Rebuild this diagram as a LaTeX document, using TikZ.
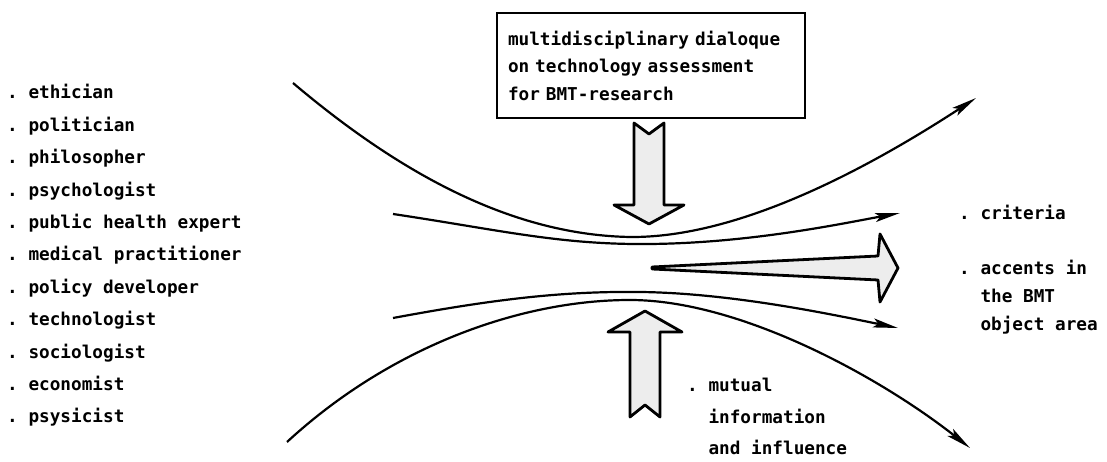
\documentclass[tikz,border=0pt]{standalone}
\usepackage{fontspec}
\setmonofont{DejaVu Sans Mono}
\usetikzlibrary{arrows.meta,positioning}

\tikzset{
  lbl/.style={font=\ttfamily\bfseries\fontsize{17.7pt}{27.5pt}\selectfont, inner sep=0pt, anchor=base west},
  flow/.style={line width=2.2pt, -{Stealth[length=25pt,width=9pt,inset=5pt]}},
  blockarrow/.style={draw, line width=2.8pt, fill=black!7, line join=round},
}

\begin{document}
\begin{tikzpicture}[x=1pt,y=1pt]
  \useasboundingbox (0,0) rectangle (1107,462);

  % disciplines taking part
  \foreach \who [count=\i from 0] in {ethician,politician,philosopher,psychologist,public health expert,medical practitioner,policy developer,technologist,sociologist,economist,psysicist}
    \node[lbl] (who\i) at (7,363-32.4*\i) {.\ \who};

  % dialogue box
  \node[lbl, anchor=center, draw, line width=1.8pt, align=left, text width=286pt, inner xsep=11pt, minimum height=105pt] (dialogue) at (651,396.5) {multidisciplinary dialoque\\on technology assessment\\for BMT-research};

  % outcomes
  \node[lbl] (crit) at (959,242) {.\ criteria};
  \node[lbl] (acc) at (959,187) {.\ accents in};
  \node[lbl] (bmt) at ([yshift=-28pt]acc.base west) {\phantom{.\ }the BMT};
  \node[lbl] (area) at ([yshift=-28pt]bmt.base west) {\phantom{.\ }object area};

  % feedback
  \node[lbl] (mut) at (687,70) {.\ mutual};
  \node[lbl] (info) at ([yshift=-31.5pt]mut.base west) {\phantom{.\ }information};
  \node[lbl] (infl) at ([yshift=-31.5pt]info.base west) {\phantom{.\ }and influence};

  % flow lines
  \coordinate (uoS) at (293,379);
  \coordinate (uoE) at (976,364);
  \coordinate (uiS) at (393,248);
  \coordinate (uiE) at (900,249);
  \coordinate (liS) at (393,144);
  \coordinate (liE) at (898,134);
  \coordinate (loS) at (287,20);
  \coordinate (loE) at (970,14);
  \draw[flow] (uoS) .. controls (410,280) and (520,227) .. (630,225) .. controls (740,224) and (870,295) .. (uoE);
  \draw[flow] (uiS) .. controls (500,232) and (560,217) .. (650,218) .. controls (750,219) and (840,238) .. (uiE);
  \draw[flow] (liS) .. controls (490,162) and (560,171) .. (640,170) .. controls (730,169) and (830,148) .. (liE);
  \draw[flow] (loS) .. controls (390,115) and (520,162) .. (630,162) .. controls (740,162) and (880,85) .. (loE);

  % block arrows
  \draw[blockarrow] (634,339) -- (649,328) -- (664,339) -- (664,257) -- (684,257) -- (649,238) -- (614,257) -- (634,257) -- cycle;
  \draw[blockarrow] (630,45) -- (645,57) -- (660,45) -- (660,130) -- (682,130) -- (645,151) -- (608,130) -- (630,130) -- cycle;
  \draw[blockarrow] (652,195) -- (878,206) -- (880,228) -- (898,194) -- (880,160) -- (878,182) -- (652,193) -- cycle;
\end{tikzpicture}
\end{document}
